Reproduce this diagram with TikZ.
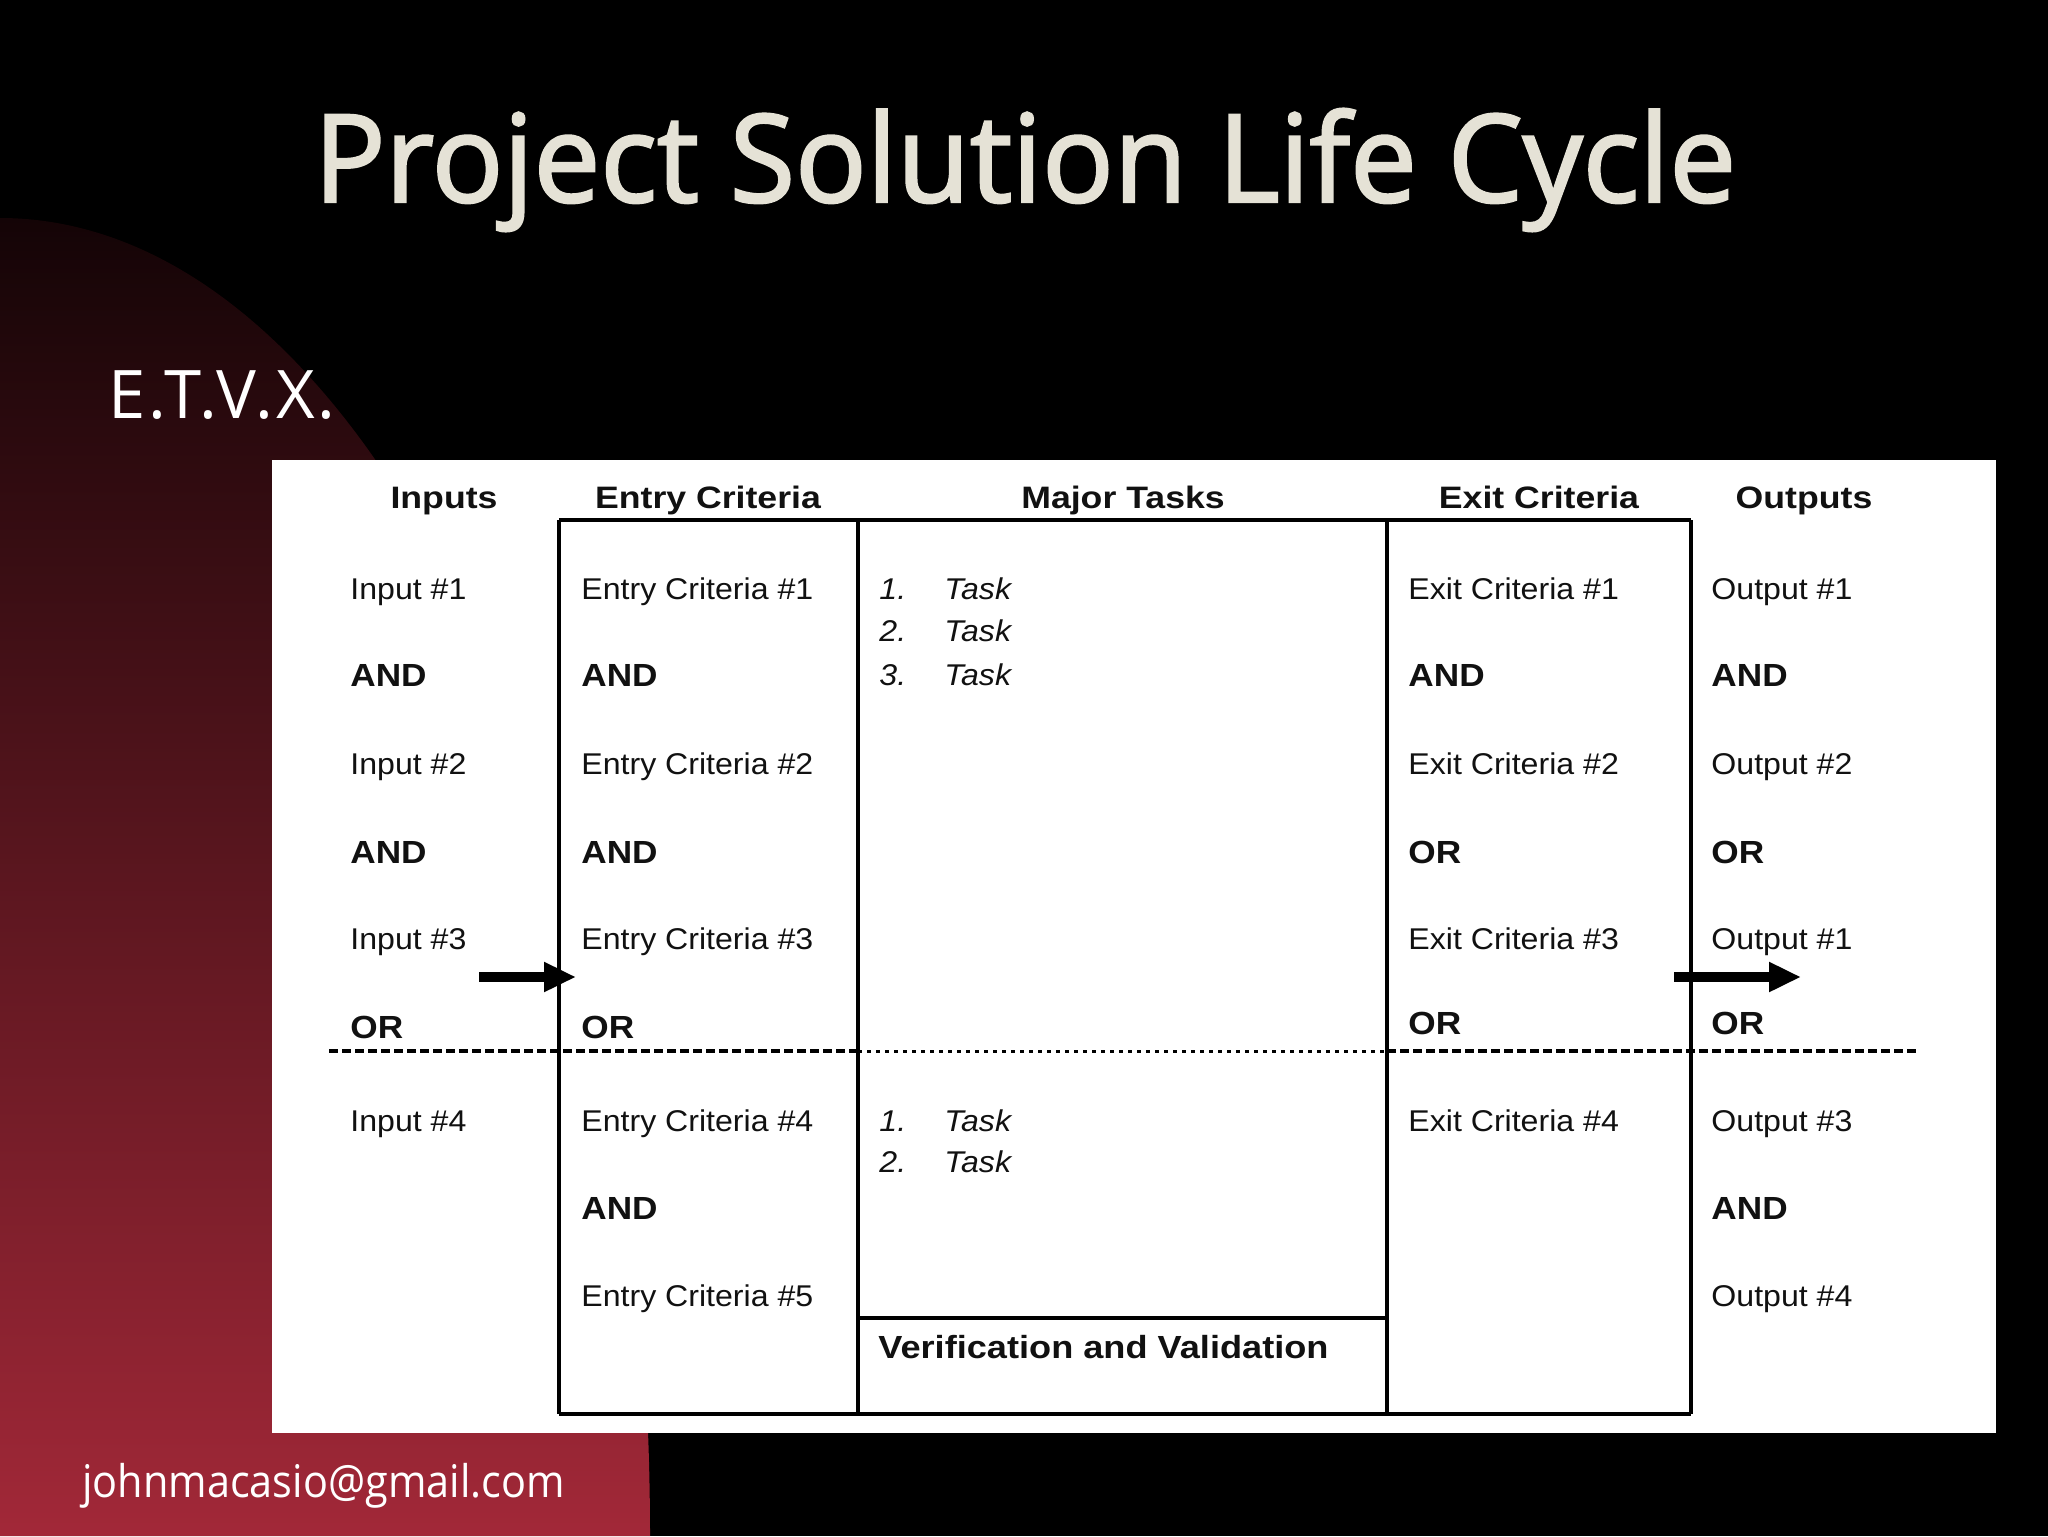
\documentclass[tikz,border=0pt]{standalone}
\usepackage{fontspec}
\setmainfont{Liberation Sans}
\newfontfamily\titlef[FakeStretch=0.975, FakeBold=2]{Open Sans}
\newfontfamily\etvxf[LetterSpace=4]{Open Sans}
\newfontfamily\mailf[FakeStretch=0.92]{Open Sans}
\newfontfamily\regf[FakeStretch=1.07]{Liberation Sans}
\newfontfamily\andf[FakeStretch=1.1]{Liberation Sans}
\newfontfamily\vvf[FakeStretch=1.13]{Liberation Sans}
\newfontfamily\headf[FakeStretch=1.15]{Liberation Sans}
\usetikzlibrary{arrows.meta}
\definecolor{titlecol}{HTML}{E5E2D6}
\definecolor{redtop}{HTML}{140406}
\definecolor{redmid}{HTML}{5C1922}
\definecolor{redbot}{HTML}{A22838}
\definecolor{ink}{HTML}{111111}
\tikzset{
  cell/.style={anchor=base west, inner sep=0pt, yshift=-5.3pt, text=ink, font=\regf\fontsize{15}{18}\selectfont},
  andcell/.style={anchor=base west, inner sep=0pt, yshift=-5.8pt, text=ink, font=\andf\bfseries\fontsize{16}{19}\selectfont},
  taskcell/.style={anchor=base west, inner sep=0pt, yshift=-5.3pt, text=ink, font=\regf\itshape\fontsize{15}{18}\selectfont},
  hdr/.style={anchor=base, inner sep=0pt, yshift=-5.5pt, text=ink, font=\headf\bfseries\fontsize{15.5}{18}\selectfont},
  boxline/.style={line width=1.8pt, draw=black},
  dashsep/.style={line width=1.7pt, draw=black, dash pattern=on 4.5pt off 2pt},
  dotsep/.style={line width=1.5pt, draw=black, dash pattern=on 2pt off 2.5pt},
  fatarrow/.style={line width=5pt, -{Triangle[length=16pt,width=14pt]}}
}
\begin{document}
\begin{tikzpicture}[x=0.5pt,y=-0.5pt]
\useasboundingbox (0,0) rectangle (2048,1536);
% background
\fill[black] (0,0) rectangle (2048,1536);
\shade[top color=redtop, middle color=redmid, bottom color=redbot]
  (0,1536) -- (0,218) arc[start angle=90, end angle=0, x radius=325pt, y radius=659pt] -- cycle;
% title
\node[anchor=base, inner sep=0pt, text=titlecol, font=\titlef\fontsize{61}{70}\selectfont] (title) at (1025,202) {Project Solution Life Cycle};
\node[anchor=base west, inner sep=0pt, text=white, font=\etvxf\fontsize{33.5}{40}\selectfont] (etvx) at (108,418) {E.T.V.X.};
\node[anchor=base west, inner sep=0pt, text=white, font=\mailf\fontsize{22.5}{27}\selectfont] (mail) at (82,1497) {johnmacasio@gmail.com};
% white panel
\fill[white] (272,460) rectangle (1996,1433);
% headers
\node[hdr] (hin) at (444,497) {Inputs};
\node[hdr] (hen) at (708,497) {Entry Criteria};
\node[hdr] (hmt) at (1123,497) {Major Tasks};
\node[hdr] (hex) at (1539,497) {Exit Criteria};
\node[hdr] (hout) at (1804,497) {Outputs};
% dashed separator
\coordinate (d0) at (329,1051);
\coordinate (d1) at (858,1051);
\coordinate (d2) at (1387,1051);
\coordinate (d3) at (1920,1051);
\draw[dashsep] (d0) -- (d1);
\draw[dotsep] (d1) -- (d2);
\draw[dashsep] (d2) -- (d3);
% box
\coordinate (a1) at (559,520);
\coordinate (a2) at (858,520);
\coordinate (a3) at (1387,520);
\coordinate (a4) at (1691,520);
\coordinate (b1) at (559,1414);
\coordinate (b2) at (858,1414);
\coordinate (b3) at (1387,1414);
\coordinate (b4) at (1691,1414);
\coordinate (v1) at (858,1318);
\coordinate (v2) at (1387,1318);
\draw[boxline] (a1) -- (a4);
\draw[boxline] (b1) -- (b4);
\draw[boxline] (a1) -- (b1);
\draw[boxline] (a2) -- (b2);
\draw[boxline] (a3) -- (b3);
\draw[boxline] (a4) -- (b4);
\draw[boxline] (v1) -- (v2);
% inputs column
\node[cell] (i1) at (350,589) {Input \#1};
\node[andcell] (i2) at (350,675) {AND};
\node[cell] (i3) at (350,764) {Input \#2};
\node[andcell] (i4) at (350,852) {AND};
\node[cell] (i5) at (350,939) {Input \#3};
\node[andcell] (i6) at (350,1027) {OR};
\node[cell] (i7) at (350,1121) {Input \#4};
% entry column
\node[cell] (e1) at (581,589) {Entry Criteria \#1};
\node[andcell] (e2) at (581,675) {AND};
\node[cell] (e3) at (581,764) {Entry Criteria \#2};
\node[andcell] (e4) at (581,852) {AND};
\node[cell] (e5) at (581,939) {Entry Criteria \#3};
\node[andcell] (e6) at (581,1027) {OR};
\node[cell] (e7) at (581,1121) {Entry Criteria \#4};
\node[andcell] (e8) at (581,1208) {AND};
\node[cell] (e9) at (581,1296) {Entry Criteria \#5};
% tasks column
\node[taskcell] (n1) at (879,589) {1.};
\node[taskcell] (t1) at (944,589) {Task};
\node[taskcell] (n2) at (879,631) {2.};
\node[taskcell] (t2) at (944,631) {Task};
\node[taskcell] (n3) at (879,675) {3.};
\node[taskcell] (t3) at (944,675) {Task};
\node[taskcell] (n4) at (879,1121) {1.};
\node[taskcell] (t4) at (944,1121) {Task};
\node[taskcell] (n5) at (879,1162) {2.};
\node[taskcell] (t5) at (944,1162) {Task};
\node[andcell, font=\vvf\bfseries\fontsize{16}{19}\selectfont] (vv) at (878,1347) {Verification and Validation};
% exit column
\node[cell] (x1) at (1408,589) {Exit Criteria \#1};
\node[andcell] (x2) at (1408,675) {AND};
\node[cell] (x3) at (1408,764) {Exit Criteria \#2};
\node[andcell] (x4) at (1408,852) {OR};
\node[cell] (x5) at (1408,939) {Exit Criteria \#3};
\node[andcell] (x6) at (1408,1023) {OR};
\node[cell] (x7) at (1408,1121) {Exit Criteria \#4};
% output column
\node[cell] (o1) at (1711,589) {Output \#1};
\node[andcell] (o2) at (1711,675) {AND};
\node[cell] (o3) at (1711,764) {Output \#2};
\node[andcell] (o4) at (1711,852) {OR};
\node[cell] (o5) at (1711,939) {Output \#1};
\node[andcell] (o6) at (1711,1023) {OR};
\node[cell] (o7) at (1711,1121) {Output \#3};
\node[andcell] (o8) at (1711,1208) {AND};
\node[cell] (o9) at (1711,1296) {Output \#4};
% arrows
\coordinate (la0) at (479,977);
\coordinate (la1) at (576,977);
\coordinate (ra0) at (1674,977);
\coordinate (ra1) at (1801,977);
\draw[fatarrow] (la0) -- (la1);
\draw[fatarrow] (ra0) -- (ra1);
\end{tikzpicture}
\end{document}
